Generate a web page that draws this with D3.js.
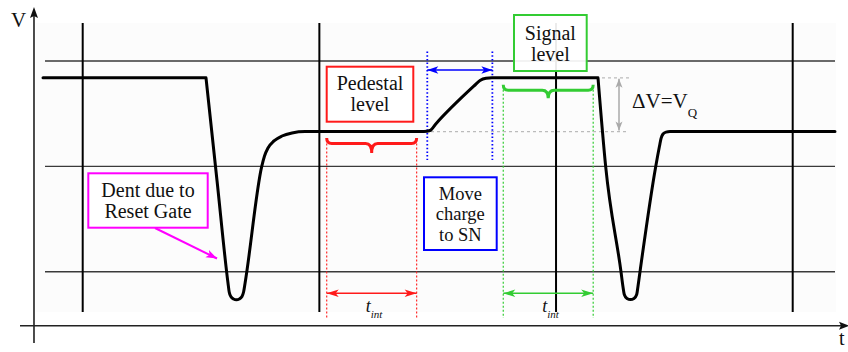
<!DOCTYPE html>
<html>
<head>
<meta charset="utf-8">
<style>
body { margin: 0; background: #fff; }
text { font-family: "Liberation Serif", "Times New Roman", "DejaVu Serif", serif; fill: #111; }
.grid-h { stroke: #3a3a3a; stroke-width: 1.4px; }
.grid-v { stroke: #000; stroke-width: 2px; }
.wave { fill: none; stroke: #000; stroke-width: 3px; stroke-linejoin: round; stroke-linecap: round; }
.box { stroke-width: 2px; fill: #fff; fill-opacity: 0.92; }
</style>
</head>
<body>
<script src="https://cdn.jsdelivr.net/npm/d3@7"></script>
<script>
// grid positions (time / voltage units)
var gridT = [0, 100, 200, 300];
var gridV = [100, 200, 300];

var sigLevel = 284, pedLevel = 233;

// CCD output waveform knots
var waveT = [-16.77, 52.10, 56.75, 61.39, 61.90, 62.66, 63.72, 64.94, 66.17, 67.22, 67.98, 68.62,
  75.63, 76.82, 78.29, 80.83, 84.21, 88.44, 93.93, 144.21, 146.75, 149.28, 165.34, 167.87, 170.41, 172.94,
  217.73, 220.98, 227.45, 228.30, 228.84, 229.98, 231.46, 232.94, 234.08, 234.59, 235.48,
  242.11, 243.72, 244.35, 245.20, 246.46, 248.15, 317.87];
var waveV = [284, 284, 186.6, 89.3, 80.7, 76.2, 74.1, 73.4, 74.1, 76.2, 80.7, 89.3,
  199.7, 209.8, 217.4, 224.1, 228.8, 231.7, 233, 233, 234.0, 240.5, 276.3, 281.5, 283.6, 284,
  284, 199.7, 100, 85.5, 78.4, 74.6, 73.5, 74.6, 78.4, 85.5, 100,
  199.7, 219.3, 226.4, 230.7, 232.5, 233, 233];
// sharp corners split the curve into pieces
var waveCorners = [1, 26];

// time windows
var pedWin = [103.1, 141.1];
var moveWin = [145.6, 173.1];
var sigWin = [177.7, 215.7];

var width = 848, height = 352;

var x = d3.scaleLinear().domain([0, 300]).range([82.7, 792.7]);
var y = d3.scaleLinear().domain([100, 300]).range([271.7, 61]);

var svg = d3.select("body").append("svg")
    .attr("width", width)
    .attr("height", height);

var defs = svg.append("defs");
function marker(id, color, len, half) {
  defs.append("marker")
      .attr("id", id)
      .attr("markerUnits", "userSpaceOnUse")
      .attr("viewBox", (-len - 1) + " " + (-half - 1) + " " + (len + 2) + " " + (2 * half + 2))
      .attr("markerWidth", len + 2)
      .attr("markerHeight", 2 * half + 2)
      .attr("refX", 0).attr("refY", 0)
      .attr("orient", "auto-start-reverse")
    .append("path")
      .attr("d", "M0,0 L" + (-len) + "," + (-half) + " L" + (-len * 0.75) + ",0 L" + (-len) + "," + half + " Z")
      .attr("fill", color);
}
marker("ar-red", "#ff1a1a", 12, 3.8);
marker("ar-green", "#33cc33", 12, 3.8);
marker("ar-blue", "#0000ff", 11, 3.8);
marker("ar-gray", "#aaaaaa", 9, 3.5);
marker("ar-mag", "#ff00ff", 11, 4);

// faint plot background
svg.append("rect")
    .attr("x", 36).attr("y", 23)
    .attr("width", 800).attr("height", 289)
    .attr("fill", "#fcfcfc");

// grid
svg.selectAll(".grid-h").data(gridV).enter().append("line")
    .attr("class", "grid-h")
    .attr("x1", 45).attr("x2", 835)
    .attr("y1", function(d) { return y(d); })
    .attr("y2", function(d) { return y(d); });

svg.selectAll(".grid-v").data(gridT).enter().append("line")
    .attr("class", "grid-v")
    .attr("x1", function(d) { return x(d); })
    .attr("x2", function(d) { return x(d); })
    .attr("y1", 23).attr("y2", 312);

// axes
var ax0 = x(-20.58), ay0 = y(48.7);
svg.append("line").attr("x1", ax0).attr("x2", ax0).attr("y1", 343).attr("y2", 16)
    .attr("stroke", "#111").attr("stroke-width", 1.5);
svg.append("path")
    .attr("d", "M" + ax0 + ",7 L" + (ax0 - 4) + ",18 L" + ax0 + ",16 L" + (ax0 + 4) + ",18 Z")
    .attr("fill", "#111");
svg.append("line").attr("x1", 20).attr("x2", 842).attr("y1", ay0).attr("y2", ay0)
    .attr("stroke", "#222").attr("stroke-width", 1.5);
svg.append("path")
    .attr("d", "M849," + ay0 + " L839," + (ay0 - 4) + " L841," + ay0 + " L839," + (ay0 + 4) + " Z")
    .attr("fill", "#111");
svg.append("text").attr("x", 18.5).attr("y", 27).attr("text-anchor", "middle")
    .style("font-size", "21px").text("V");
svg.append("text").attr("x", 839).attr("y", 345)
    .style("font-size", "20px").text("t");

// dotted guides
function vdot(t, y1, y2, color, dash, w) {
  svg.append("line")
      .attr("x1", x(t)).attr("x2", x(t)).attr("y1", y1).attr("y2", y2)
      .attr("stroke", color).attr("stroke-width", w).attr("stroke-dasharray", dash);
}
pedWin.forEach(function(t) { vdot(t, y(pedLevel) + 12, 318, "#ff2a2a", "2,2", 1.2); });
sigWin.forEach(function(t) { vdot(t, y(sigLevel) + 12, 318, "#33cc33", "2,2", 1.2); });
moveWin.forEach(function(t) { vdot(t, 51.5, 160, "#0000ff", "1.5,2.2", 1.8); });

// delta V guides
svg.append("line").attr("x1", 488).attr("x2", 629)
    .attr("y1", y(sigLevel)).attr("y2", y(sigLevel))
    .attr("stroke", "#bbb").attr("stroke-width", 1.2).attr("stroke-dasharray", "3,3");
svg.append("line").attr("x1", 413).attr("x2", 629)
    .attr("y1", y(pedLevel)).attr("y2", y(pedLevel))
    .attr("stroke", "#bbb").attr("stroke-width", 1.2).attr("stroke-dasharray", "3,3");
svg.append("line").attr("x1", 619).attr("x2", 619)
    .attr("y1", y(sigLevel) + 1).attr("y2", y(pedLevel) - 1)
    .attr("stroke", "#aaa").attr("stroke-width", 1.5)
    .attr("marker-start", "url(#ar-gray)").attr("marker-end", "url(#ar-gray)");

// waveform
var pts = waveT.map(function(t, i) { return [t, waveV[i]]; });
var cuts = [0].concat(waveCorners, [pts.length - 1]);
var line = d3.line()
    .x(function(d) { return x(d[0]); })
    .y(function(d) { return y(d[1]); })
    .curve(d3.curveMonotoneX);
var dstr = "";
for (var i = 0; i < cuts.length - 1; i++) {
  var seg = line(pts.slice(cuts[i], cuts[i + 1] + 1));
  dstr += i === 0 ? seg : "L" + seg.slice(1);
}
svg.append("path").attr("class", "wave").attr("d", dstr);

// braces
function brace(x0, x1, yTop, yMid, yTip) {
  var xc = (x0 + x1) / 2, r = 5, rc = 6;
  return "M" + x0 + "," + yTop + " Q" + x0 + "," + yMid + " " + (x0 + r) + "," + yMid +
    " L" + (xc - rc) + "," + yMid + " Q" + xc + "," + yMid + " " + xc + "," + yTip +
    " Q" + xc + "," + yMid + " " + (xc + rc) + "," + yMid +
    " L" + (x1 - r) + "," + yMid + " Q" + x1 + "," + yMid + " " + x1 + "," + yTop;
}
svg.append("path")
    .attr("d", brace(x(pedWin[0]), x(pedWin[1]), y(pedLevel) + 6.5, y(pedLevel) + 12, y(pedLevel) + 21.5))
    .attr("fill", "none").attr("stroke", "#ff1a1a").attr("stroke-width", 3);
svg.append("path")
    .attr("d", brace(x(sigWin[0]), x(sigWin[1]), y(sigLevel) + 7, y(sigLevel) + 12.5, y(sigLevel) + 20.5))
    .attr("fill", "none").attr("stroke", "#33cc33").attr("stroke-width", 3);

// double arrows
function harrow(w, yy, id, color) {
  svg.append("line")
      .attr("x1", x(w[0])).attr("x2", x(w[1])).attr("y1", yy).attr("y2", yy)
      .attr("stroke", color).attr("stroke-width", 1.5)
      .attr("marker-start", "url(#" + id + ")").attr("marker-end", "url(#" + id + ")");
}
harrow(pedWin, 293.3, "ar-red", "#ff1a1a");
harrow(sigWin, 293.3, "ar-green", "#33cc33");
harrow(moveWin, 70, "ar-blue", "#0000ff");

// t_int labels
function tint(w) {
  var t = svg.append("text")
      .attr("x", (x(w[0]) + x(w[1])) / 2 - 6).attr("y", 311.5)
      .style("font-style", "italic");
  t.append("tspan").style("font-size", "18px").text("t");
  t.append("tspan").attr("dy", 6).style("font-size", "11px").text("int");
}
tint(pedWin);
tint(sigWin);

// boxed labels
function box(bx, by, bw, bh, color, lines, fs, base, lh) {
  svg.append("rect").attr("class", "box")
      .attr("x", bx).attr("y", by).attr("width", bw).attr("height", bh)
      .attr("stroke", color);
  lines.forEach(function(s, i) {
    svg.append("text")
        .attr("x", bx + bw / 2).attr("y", base + i * lh)
        .attr("text-anchor", "middle")
        .style("font-size", fs + "px")
        .text(s);
  });
}

// reset gate arrow
svg.append("line").attr("x1", 155).attr("y1", 228).attr("x2", 217).attr("y2", 258.5)
    .attr("stroke", "#ff00ff").attr("stroke-width", 2)
    .attr("marker-end", "url(#ar-mag)");

box(326.7, 66.7, 86.6, 55, "#ff1a1a", ["Pedestal", "level"], 20, 90, 21);
box(514, 15, 72.7, 56, "#33cc33", ["Signal", "level"], 20, 39.5, 21);
box(424, 177.3, 72.7, 72.7, "#0000ff", ["Move", "charge", "to SN"], 18.5, 200, 20.3);
box(88.3, 173.3, 119.4, 54.4, "#ff00ff", ["Dent due to", "Reset Gate"], 20, 196.7, 21.6);

// delta V label
var dv = svg.append("text").attr("x", 632).attr("y", 107.5).style("font-size", "21px");
dv.append("tspan").text("\u0394V=V");
dv.append("tspan").attr("dy", 9).style("font-size", "13px").text("Q");
</script>
</body>
</html>
